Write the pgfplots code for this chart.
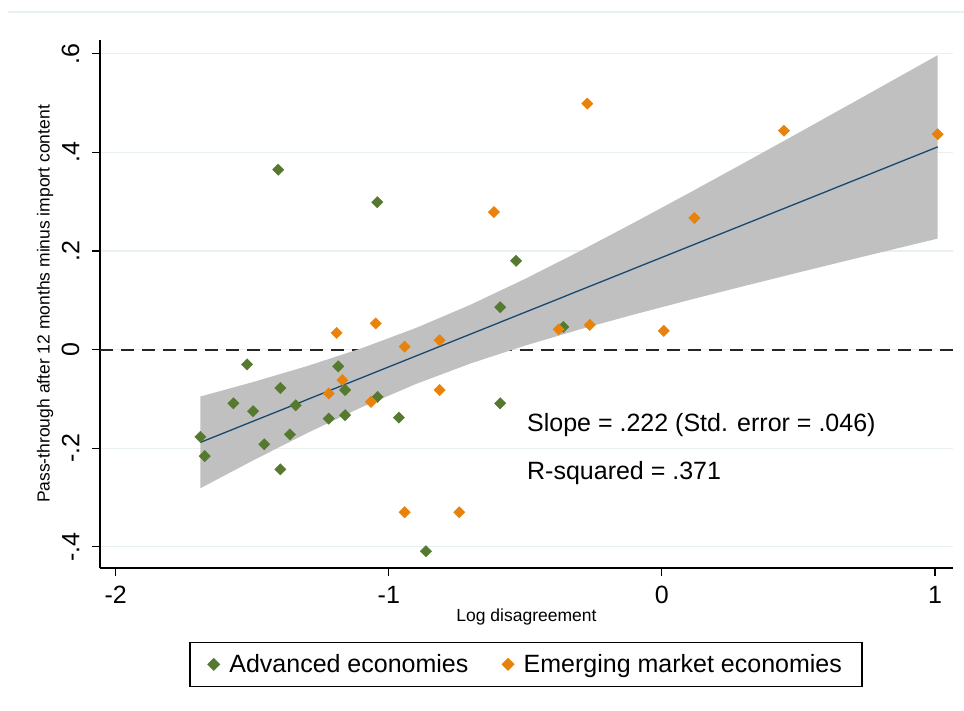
\documentclass[border=0pt]{standalone}
\usepackage{pgfplots}
\pgfplotsset{compat=1.18}
\usepackage{fontspec}
\setmainfont{Liberation Sans}
\setsansfont{Liberation Sans}
\definecolor{adv}{RGB}{85,122,47}
\definecolor{emg}{RGB}{232,130,10}
\definecolor{band}{RGB}{192,192,192}
\definecolor{fitline}{RGB}{26,71,111}
\definecolor{gridc}{RGB}{232,240,242}
\begin{document}
\begin{tikzpicture}
\path[use as bounding box] (0,0) rectangle (964pt,710pt);
\draw[gridc, line width=1.2pt] (8pt,698pt) -- (964pt,698pt);
\begin{axis}[
  at={(100pt,142pt)}, anchor=south west,
  scale only axis, width=853pt, height=528pt,
  xmin=-2.0575, xmax=1.066, ymin=-0.443, ymax=0.628,
  axis x line*=bottom, axis y line*=left,
  axis line style={line width=1.2pt, black},
  xtick={-2,-1,0,1}, ytick={-0.4,-0.2,0,0.2,0.4,0.6},
  yticklabels={-.4,-.2,0,.2,.4,.6},
  tick align=outside, major tick length=8pt,
  tick style={line width=1.2pt, black},
  ymajorgrids, grid style={gridc, line width=1.2pt},
  /pgf/number format/assume math mode=true,
  ticklabel style={font=\fontsize{25}{30}\selectfont},
  yticklabel style={rotate=90, anchor=south, yshift=9pt},
  xticklabel style={yshift=-7pt},
  xlabel={Log disagreement},
  ylabel={Pass-through after 12 months minus import content},
  label style={font=\fontsize{17.5}{20}\selectfont},
  every axis x label/.append style={at={(axis description cs:0.5,-0.0928)}, anchor=center},
  every axis y label/.append style={at={(axis description cs:-0.0645,0.5)}, anchor=center},
  legend columns=2,
  legend style={at={(axis description cs:0.4994,-0.140)}, anchor=north,
    draw=black, line width=1.2pt, font=\fontsize{25}{30}\selectfont,
    inner xsep=18pt, inner ysep=10pt,
    /tikz/every odd column/.append style={column sep=8pt},
    /tikz/every even column/.append style={column sep=32pt}},
  legend cell align=left,
  clip=false,
]
% zero reference line
\addplot[forget plot, black!85, dashed, dash pattern=on 13pt off 8pt, line width=2pt] coordinates {(-2.0575,0) (1.066,0)};
% confidence band
\addplot[forget plot, fill=band, draw=none] coordinates {
(-1.69,-0.0952) (-1.5,-0.0663) (-1.3,-0.0336) (-1.1,0.0026) (-0.9,0.0440)
(-0.7,0.0912) (-0.5,0.1437) (-0.3,0.1998) (-0.1,0.2581) (0.1,0.3178)
(0.3,0.3784) (0.5,0.4396) (0.7,0.5012) (0.9,0.5631) (1.01,0.5972)
(1.01,0.2252) (0.9,0.2105) (0.7,0.1836) (0.5,0.1564) (0.3,0.1288)
(0.1,0.1006) (-0.1,0.0715) (-0.3,0.0411) (-0.5,0.0083) (-0.7,-0.0280)
(-0.9,-0.0696) (-1.1,-0.1170) (-1.3,-0.1696) (-1.5,-0.2257) (-1.69,-0.2812)
} -- cycle;
% fitted line
\addplot[forget plot, fitline, line width=1.3pt] coordinates {(-1.69,-0.1882) (1.01,0.4112)};
% Advanced economies
\addplot[only marks, mark=square*, mark size=4pt, mark options={rotate=45, fill=adv, draw=adv}] coordinates {
(-1.519,-0.030) (-1.185,-0.034) (-1.397,-0.078) (-1.160,-0.082) (-1.569,-0.109)
(-1.341,-0.113) (-1.497,-0.125) (-1.041,-0.096) (-1.220,-0.140) (-1.160,-0.133)
(-0.963,-0.138) (-1.362,-0.172) (-1.690,-0.177) (-1.456,-0.192) (-1.674,-0.216)
(-1.397,-0.243) (-0.864,-0.409) (-1.405,0.365) (-1.042,0.299) (-0.534,0.180)
(-0.592,0.086) (-0.361,0.046) (-0.592,-0.109)
};
\addlegendentry{Advanced economies}
% Emerging market economies
\addplot[only marks, mark=square*, mark size=4pt, mark options={rotate=45, fill=emg, draw=emg}] coordinates {
(-1.191,0.034) (-1.048,0.053) (-0.942,0.006) (-0.814,0.019) (-1.170,-0.062)
(-1.220,-0.089) (-1.065,-0.106) (-0.814,-0.082) (-0.942,-0.330) (-0.742,-0.330)
(-0.615,0.279) (-0.273,0.499) (0.119,0.267) (0.447,0.444) (1.010,0.437)
(-0.378,0.041) (-0.264,0.050) (0.007,0.038)
};
\addlegendentry{Emerging market economies}
\node[anchor=west, font=\fontsize{25}{30}\selectfont, inner sep=0pt] at (axis cs:-0.494,-0.153) {Slope = .222 (Std. error = .046)};
\node[anchor=west, font=\fontsize{25}{30}\selectfont, inner sep=0pt] at (axis cs:-0.494,-0.250) {R-squared = .371};
\end{axis}
\end{tikzpicture}
\end{document}
